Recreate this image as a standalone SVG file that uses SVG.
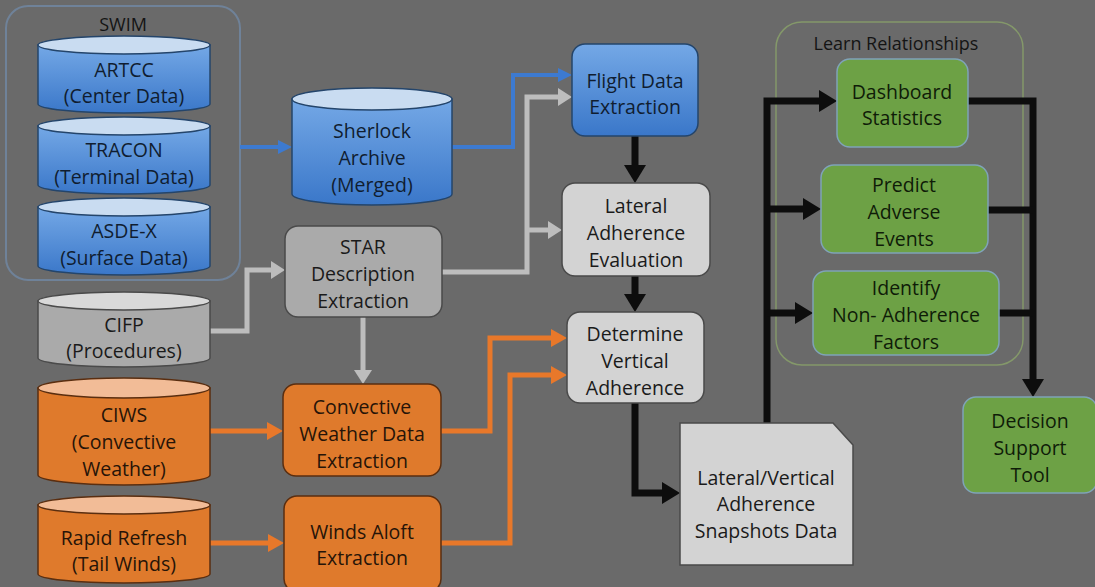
<svg xmlns="http://www.w3.org/2000/svg" width="1095" height="587" viewBox="0 0 1095 587">
  <style>
    text { font-family: "Open Sans", Lato, "Liberation Sans", sans-serif; font-size: 19.5px; font-weight: 500; text-anchor: middle; }
    .tb { fill: #101d30; }
    .tg { fill: #1a1a1a; }
    .to { fill: #261408; }
    .tn { fill: #0f1c08; }
    .cap { font-size: 18px; fill: #141414; }
    .blueBody { fill: url(#gBlue); stroke: #24456b; stroke-width: 1.5; }
    .blueTop { fill: #c9dcf1; stroke: #24456b; stroke-width: 1.5; }
    .grayBody { fill: #aaaaaa; stroke: #4a4a4a; stroke-width: 1.5; }
    .grayTop { fill: #d9d9d9; stroke: #4a4a4a; stroke-width: 1.5; }
    .lightBox { fill: #d3d3d3; stroke: #4a4a4a; stroke-width: 1.5; }
    .orBody { fill: #df7a2c; stroke: #5a2e10; stroke-width: 1.5; }
    .orTop { fill: #f2bc97; stroke: #5a2e10; stroke-width: 1.5; }
    .grBox { fill: #6da145; stroke: #7fa3b8; stroke-width: 1.5; }
    .c { fill: none; stroke-linejoin: miter; }
    .cBlue { stroke: #3d7ad0; stroke-width: 4; }
    .cGray { stroke: #bdbdbd; stroke-width: 5; }
    .cOr { stroke: #e8782a; stroke-width: 5; }
    .cBlk { stroke: #0d0d0d; stroke-width: 7; }
  </style>
  <defs>
    <linearGradient id="gBlue" x1="0" y1="0" x2="0" y2="1">
      <stop offset="0" stop-color="#74a8e6"/>
      <stop offset="1" stop-color="#3a77c9"/>
    </linearGradient>
    <marker id="aBlue" viewBox="0 0 14 14" refX="0" refY="7" markerWidth="14" markerHeight="14" markerUnits="userSpaceOnUse" orient="auto">
      <path d="M0,0 L14,7 L0,14 Z" fill="#3d7ad0"/>
    </marker>
    <marker id="aGray" viewBox="0 0 14 18" refX="0" refY="9" markerWidth="14" markerHeight="18" markerUnits="userSpaceOnUse" orient="auto">
      <path d="M0,0 L14,9 L0,18 Z" fill="#bdbdbd"/>
    </marker>
    <marker id="aOr" viewBox="0 0 16 18" refX="0" refY="9" markerWidth="16" markerHeight="18" markerUnits="userSpaceOnUse" orient="auto">
      <path d="M0,0 L16,9 L0,18 Z" fill="#e8782a"/>
    </marker>
    <marker id="aBlk" viewBox="0 0 18 22" refX="0" refY="11" markerWidth="18" markerHeight="22" markerUnits="userSpaceOnUse" orient="auto">
      <path d="M0,0 L18,11 L0,22 Z" fill="#0d0d0d"/>
    </marker>
  </defs>

  <rect width="1095" height="587" fill="#6a6a6a"/>

  <!-- containers -->
  <g id="swim">
    <rect x="6" y="6" width="234" height="274" rx="22" fill="none" stroke="#6f8299" stroke-width="2"/>
    <text class="cap" x="123" y="31">SWIM</text>
  </g>
  <g id="learn-relationships">
    <rect x="776" y="22" width="247" height="343" rx="26" fill="none" stroke="#84986a" stroke-width="1.5"/>
    <text class="cap" x="896" y="50">Learn Relationships</text>
  </g>

  <!-- connectors -->
  <g id="connectors">
    <path class="c cBlue" d="M240,147 H278" marker-end="url(#aBlue)"/>
    <path class="c cBlue" d="M452,147 H513 V75 H558" marker-end="url(#aBlue)"/>
    <path class="c cGray" d="M442,272 H527 V97 H558" marker-end="url(#aGray)"/>
    <path class="c cGray" d="M527,230 H548" marker-end="url(#aGray)"/>
    <path class="c cGray" d="M210,331 H247 V270 H271" marker-end="url(#aGray)"/>
    <path class="c cGray" d="M363,317 V370" marker-end="url(#aGray)"/>
    <path class="c cOr" d="M210,431 H267" marker-end="url(#aOr)"/>
    <path class="c cOr" d="M210,543 H268" marker-end="url(#aOr)"/>
    <path class="c cOr" d="M441,431 H490 V338 H551" marker-end="url(#aOr)"/>
    <path class="c cOr" d="M441,543 H510 V375 H551" marker-end="url(#aOr)"/>
    <path class="c cBlk" d="M635,136 V165" marker-end="url(#aBlk)"/>
    <path class="c cBlk" d="M635,276 V294" marker-end="url(#aBlk)"/>
    <path class="c cBlk" d="M635,403 V493 H662" marker-end="url(#aBlk)"/>
    <path class="c cBlk" d="M767,423 V101 H819" marker-end="url(#aBlk)"/>
    <path class="c cBlk" d="M767,209 H803" marker-end="url(#aBlk)"/>
    <path class="c cBlk" d="M767,313 H795" marker-end="url(#aBlk)"/>
    <path class="c cBlk" d="M968,101 H1033 V379" marker-end="url(#aBlk)"/>
    <path class="c cBlk" d="M988,210 H1033"/>
    <path class="c cBlk" d="M999,313 H1033"/>
  </g>

  <!-- data sources -->
  <g id="artcc">
    <path class="blueBody" d="M38,45 V104 A86,9 0 0 0 210,104 V45 Z"/>
    <ellipse class="blueTop" cx="124" cy="45" rx="86" ry="9"/>
    <text class="tb" x="124" y="77">ARTCC</text>
    <text class="tb" x="124" y="103">(Center Data)</text>
  </g>
  <g id="tracon">
    <path class="blueBody" d="M38,126 V185 A86,9 0 0 0 210,185 V126 Z"/>
    <ellipse class="blueTop" cx="124" cy="126" rx="86" ry="9"/>
    <text class="tb" x="124" y="157">TRACON</text>
    <text class="tb" x="124" y="184">(Terminal Data)</text>
  </g>
  <g id="asdex">
    <path class="blueBody" d="M38,207 V266 A86,9 0 0 0 210,266 V207 Z"/>
    <ellipse class="blueTop" cx="124" cy="207" rx="86" ry="9"/>
    <text class="tb" x="124" y="238">ASDE-X</text>
    <text class="tb" x="124" y="265">(Surface Data)</text>
  </g>
  <g id="cifp">
    <path class="grayBody" d="M38,301 V358 A86,9 0 0 0 210,358 V301 Z"/>
    <ellipse class="grayTop" cx="124" cy="301" rx="86" ry="9"/>
    <text class="tg" x="124" y="332">CIFP</text>
    <text class="tg" x="124" y="358">(Procedures)</text>
  </g>
  <g id="ciws">
    <path class="orBody" d="M38,388 V475 A86,10 0 0 0 210,475 V388 Z"/>
    <ellipse class="orTop" cx="124" cy="388" rx="86" ry="10"/>
    <text class="to" x="124" y="422">CIWS</text>
    <text class="to" x="124" y="449">(Convective</text>
    <text class="to" x="124" y="476">Weather)</text>
  </g>
  <g id="rapid-refresh">
    <path class="orBody" d="M38,505 V574 A86,9 0 0 0 210,574 V505 Z"/>
    <ellipse class="orTop" cx="124" cy="505" rx="86" ry="9"/>
    <text class="to" x="124" y="545">Rapid Refresh</text>
    <text class="to" x="124" y="571">(Tail Winds)</text>
  </g>
  <g id="sherlock">
    <path class="blueBody" d="M292,99 V194 A80,11 0 0 0 452,194 V99 Z"/>
    <ellipse class="blueTop" cx="372" cy="99" rx="80" ry="11"/>
    <text class="tb" x="372" y="138">Sherlock</text>
    <text class="tb" x="372" y="165">Archive</text>
    <text class="tb" x="372" y="192">(Merged)</text>
  </g>

  <!-- processing steps -->
  <g id="star">
    <rect class="grayBody" x="285" y="226" width="157" height="91" rx="13"/>
    <text class="tg" x="363" y="254">STAR</text>
    <text class="tg" x="363" y="281">Description</text>
    <text class="tg" x="363" y="308">Extraction</text>
  </g>
  <g id="convective">
    <rect class="orBody" x="283" y="384" width="158" height="92" rx="13"/>
    <text class="to" x="362" y="414">Convective</text>
    <text class="to" x="362" y="441">Weather Data</text>
    <text class="to" x="362" y="468">Extraction</text>
  </g>
  <g id="winds-aloft">
    <rect class="orBody" x="284" y="496" width="157" height="96" rx="13"/>
    <text class="to" x="362" y="539">Winds Aloft</text>
    <text class="to" x="362" y="565">Extraction</text>
  </g>
  <g id="flight-data">
    <rect class="blueBody" x="572" y="44" width="126" height="92" rx="13"/>
    <text class="tb" x="635" y="88">Flight Data</text>
    <text class="tb" x="635" y="114">Extraction</text>
  </g>
  <g id="lateral">
    <rect class="lightBox" x="562" y="183" width="148" height="93" rx="13"/>
    <text class="tg" x="636" y="213">Lateral</text>
    <text class="tg" x="636" y="240">Adherence</text>
    <text class="tg" x="636" y="267">Evaluation</text>
  </g>
  <g id="vertical">
    <rect class="lightBox" x="567" y="312" width="137" height="91" rx="13"/>
    <text class="tg" x="635" y="341">Determine</text>
    <text class="tg" x="635" y="368">Vertical</text>
    <text class="tg" x="635" y="395">Adherence</text>
  </g>
  <g id="snapshots">
    <path class="lightBox" d="M680,423 H833 L853,445 V565 H680 Z"/>
    <text class="tg" x="766" y="485">Lateral/Vertical</text>
    <text class="tg" x="766" y="511">Adherence</text>
    <text class="tg" x="766" y="538">Snapshots Data</text>
  </g>

  <!-- analysis outputs -->
  <g id="dashboard">
    <rect class="grBox" x="837" y="59" width="131" height="88" rx="13"/>
    <text class="tn" x="902" y="99">Dashboard</text>
    <text class="tn" x="902" y="125">Statistics</text>
  </g>
  <g id="predict">
    <rect class="grBox" x="821" y="165" width="167" height="88" rx="13"/>
    <text class="tn" x="904" y="192">Predict</text>
    <text class="tn" x="904" y="219">Adverse</text>
    <text class="tn" x="904" y="246">Events</text>
  </g>
  <g id="identify">
    <rect class="grBox" x="813" y="271" width="186" height="84" rx="13"/>
    <text class="tn" x="906" y="295">Identify</text>
    <text class="tn" x="906" y="322">Non- Adherence</text>
    <text class="tn" x="906" y="349">Factors</text>
  </g>
  <g id="decision">
    <rect class="grBox" x="963" y="397" width="134" height="96" rx="13"/>
    <text class="tn" x="1030" y="428">Decision</text>
    <text class="tn" x="1030" y="455">Support</text>
    <text class="tn" x="1030" y="482">Tool</text>
  </g>
</svg>
